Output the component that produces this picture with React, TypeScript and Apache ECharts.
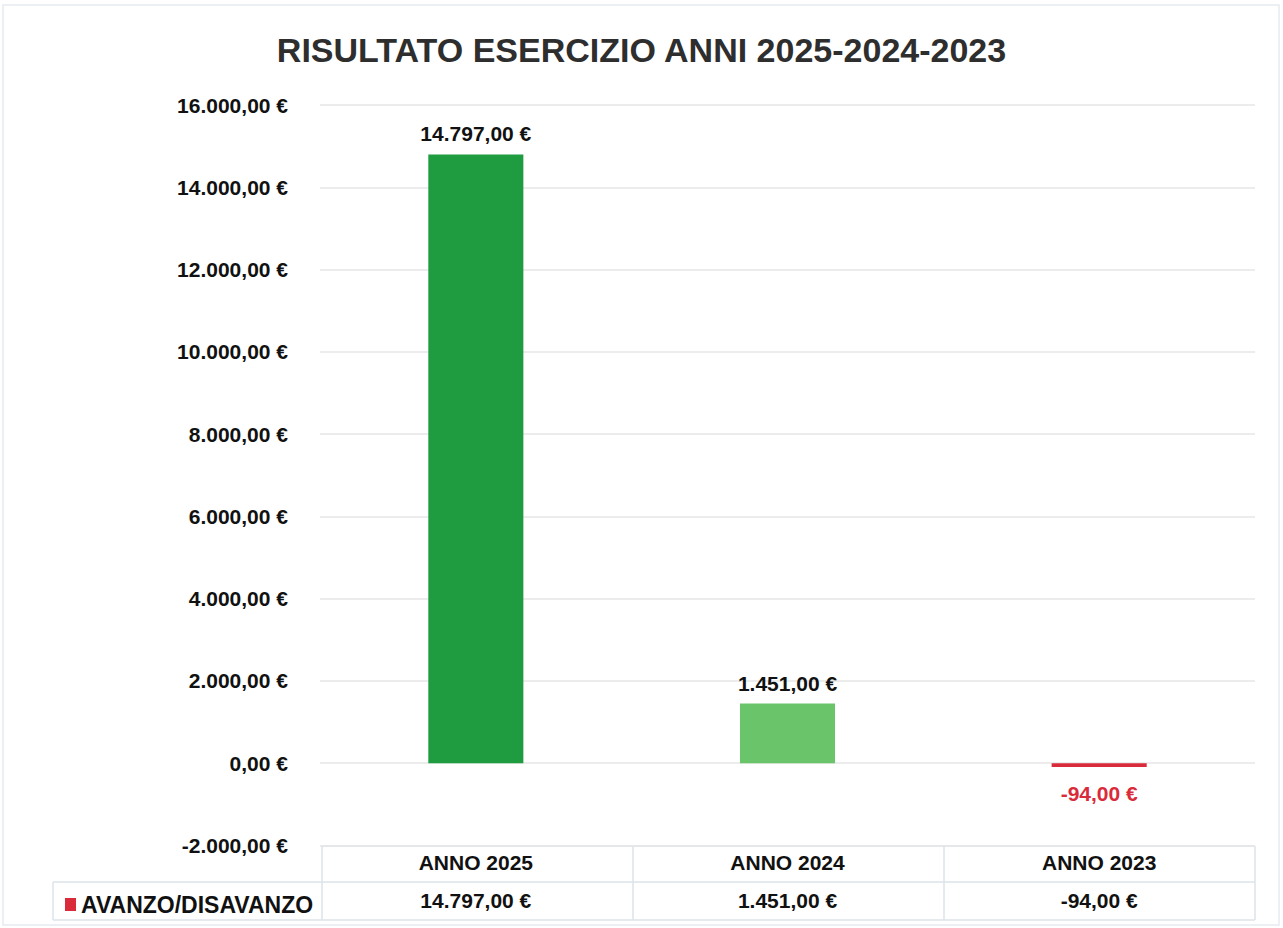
import React, { useEffect, useRef } from "react";
import * as echarts from "echarts";

const categories = ["ANNO 2025", "ANNO 2024", "ANNO 2023"];
const values = [14797, 1451, -94];
const barColors = ["#1f9b40", "#6ac56a", "#d92b3a"];
const seriesName = "AVANZO/DISAVANZO";
const titleText = "RISULTATO ESERCIZIO ANNI 2025-2024-2023";
const yMin = -2000;
const yMax = 16000;
const yInterval = 2000;

const FONT = "'Liberation Sans', Arial, sans-serif";

function euro(v: number): string {
  const neg = v < 0;
  const abs = Math.abs(v);
  const intPart = Math.floor(abs);
  const dec = Math.round((abs - intPart) * 100);
  const intStr = String(intPart).replace(/\B(?=(\d{3})+(?!\d))/g, ".");
  return (neg ? "-" : "") + intStr + "," + String(dec).padStart(2, "0") + " €";
}

export default function App() {
  const ref = useRef<HTMLDivElement>(null);
  useEffect(() => {
    if (!ref.current) return;
    const chart = echarts.init(ref.current, null, { renderer: "svg" });
    const border = "#dde3ea";
    const labelStyle = { fontFamily: FONT, fontWeight: "bold" as const, fontSize: 21, color: "#111" };
    chart.setOption({
      animation: false,
      backgroundColor: "#ffffff",
      title: {
        text: titleText,
        left: "center",
        top: 28,
        textStyle: { fontFamily: FONT, fontWeight: "bold", fontSize: 34, color: "#2e2e2e" },
      },
      legend: {
        data: [seriesName],
        left: 60,
        top: 888,
        icon: "rect",
        itemWidth: 11,
        itemHeight: 13,
        itemGap: 6,
        textStyle: { ...labelStyle, fontSize: 23, padding: [0, 0, 0, 0] },
      },
      grid: { left: 320, right: 28, top: 105, bottom: 82.5, containLabel: false },
      xAxis: [
        {
          type: "category",
          data: categories,
          position: "bottom",
          axisLine: { show: false, onZero: false },
          axisTick: { show: false },
          axisLabel: { ...labelStyle, margin: 6 },
          splitLine: { show: false },
        },
        {
          type: "category",
          data: values.map(euro),
          position: "bottom",
          offset: 44,
          axisLine: { show: false, onZero: false },
          axisTick: { show: false },
          axisLabel: { ...labelStyle, margin: 0 },
          splitLine: { show: false },
        },
      ],
      yAxis: {
        type: "value",
        min: yMin,
        max: yMax,
        interval: yInterval,
        axisLine: { show: false },
        axisTick: { show: false },
        axisLabel: { ...labelStyle, margin: 32, formatter: (v: number) => euro(v) },
        splitLine: { lineStyle: { color: "#e6e6e6", width: 1.5 } },
      },
      series: [
        {
          name: seriesName,
          type: "bar",
          xAxisIndex: 0,
          barWidth: "30.5%",
          itemStyle: { color: barColors[2] },
          label: {
            show: true,
            position: "top",
            distance: 10,
            ...labelStyle,
            formatter: (p: any) => euro(p.value),
          },
          data: values.map((v, i) => ({
            value: v,
            itemStyle: { color: barColors[i] },
            label:
              v < 0
                ? { position: "bottom", distance: 16, color: barColors[i] }
                : { position: "top" },
          })),
        },
      ],
      graphic: [
        {
          type: "rect",
          shape: { x: 3, y: 5, width: 1276, height: 920 },
          style: { fill: "none", stroke: "#e6eaef", lineWidth: 1.5 },
          silent: true,
        },
        {
          type: "group",
          silent: true,
          children: [
            { type: "line", shape: { x1: 322, y1: 846, x2: 1255, y2: 846 }, style: { stroke: border, lineWidth: 1.5 } },
            { type: "line", shape: { x1: 53, y1: 882, x2: 1255, y2: 882 }, style: { stroke: border, lineWidth: 1.5 } },
            { type: "line", shape: { x1: 53, y1: 920, x2: 1255, y2: 920 }, style: { stroke: border, lineWidth: 1.5 } },
            { type: "line", shape: { x1: 53, y1: 882, x2: 53, y2: 920 }, style: { stroke: border, lineWidth: 1.5 } },
            { type: "line", shape: { x1: 322, y1: 846, x2: 322, y2: 920 }, style: { stroke: border, lineWidth: 1.5 } },
            { type: "line", shape: { x1: 633, y1: 846, x2: 633, y2: 920 }, style: { stroke: border, lineWidth: 1.5 } },
            { type: "line", shape: { x1: 944, y1: 846, x2: 944, y2: 920 }, style: { stroke: border, lineWidth: 1.5 } },
            { type: "line", shape: { x1: 1255, y1: 846, x2: 1255, y2: 920 }, style: { stroke: border, lineWidth: 1.5 } },
          ],
        },
      ],
    });
    return () => chart.dispose();
  }, []);
  return (
    <div
      ref={ref}
      style={{ position: "fixed", left: 0, top: 0, width: 1283, height: 928, background: "#fff" }}
    />
  );
}
